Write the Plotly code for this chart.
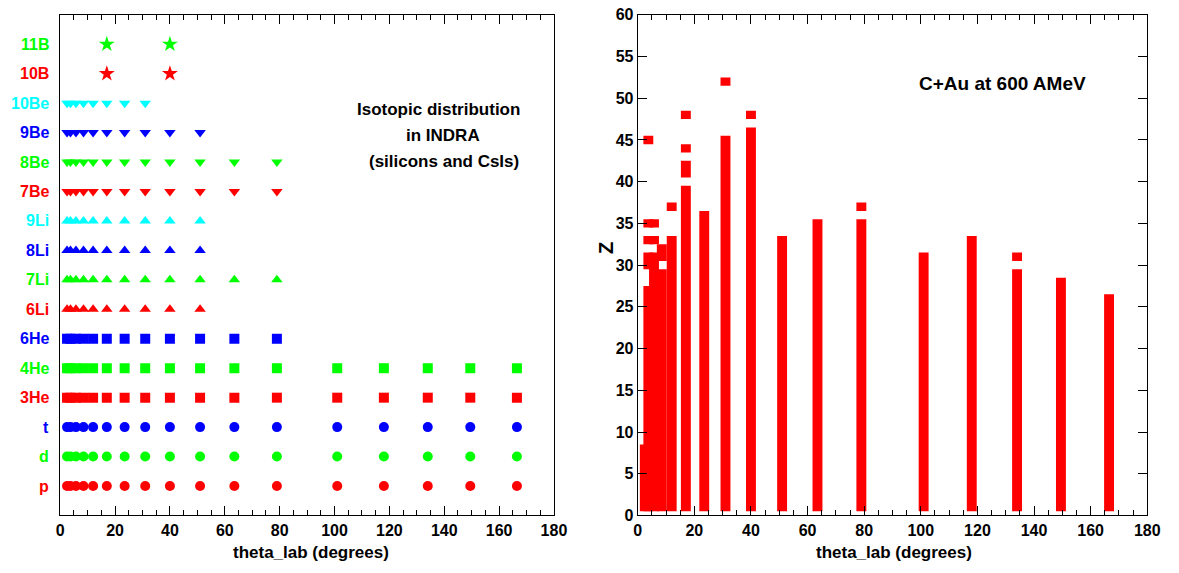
import plotly.graph_objects as go

W, H = 1179, 573

# ---------------- data ----------------
# INDRA ring centre angles (degrees)
ring_angles = [2.5, 3.75, 5.75, 8.5, 12, 17, 23.5, 31, 40, 51, 63.5, 79, 101, 118, 134, 149.5, 166.5]

isotopes = ["p", "d", "t", "3He", "4He", "6He", "6Li", "7Li", "8Li", "9Li",
            "7Be", "8Be", "9Be", "10Be", "10B", "11B"]
# number of rings (from the first) in which each isotope is identified
rings_used = [17, 17, 17, 17, 17, 12, 10, 12, 10, 10, 12, 12, 10, 8, 0, 0]
# boron isotopes: only two angles
boron_angles = [17, 40]
iso_colors = ["#ff0000", "#00ff00", "#0000ff", "#ff0000", "#00ff00", "#0000ff",
              "#ff0000", "#00ff00", "#0000ff", "#00ffff", "#ff0000", "#00ff00",
              "#0000ff", "#00ffff", "#ff0000", "#00ff00"]
iso_symbols = ["circle"] * 3 + ["square"] * 3 + ["triangle-up"] * 4 + ["triangle-down"] * 4 + ["star"] * 2
iso_sizes = [10] * 3 + [10] * 3 + [10] * 4 + [10] * 4 + [12] * 2

# Right panel: Z ranges (inclusive runs) observed at each ring angle
z_runs = {
    2.5: [(1, 8)],
    3.75: [(1, 27), (30, 31), (33, 33), (35, 35), (45, 45)],
    5.75: [(1, 31), (33, 33), (35, 35)],
    8.5: [(1, 29), (31, 32)],
    12: [(1, 33), (37, 37)],
    17: [(1, 39), (41, 42), (44, 44), (48, 48)],
    23.5: [(1, 36)],
    31: [(1, 45), (52, 52)],
    40: [(1, 46), (48, 48)],
    51: [(1, 33)],
    63.5: [(1, 35)],
    79: [(1, 35), (37, 37)],
    101: [(1, 31)],
    118: [(1, 33)],
    134: [(1, 29), (31, 31)],
    149.5: [(1, 28)],
    166.5: [(1, 26)],
}
theta_bin_width = 3.5

# ---------------- figure ----------------
def px(xp):
    return xp / W

def py(yp):
    return 1 - yp / H

FONT = "Liberation Sans, Arial, Helvetica, sans-serif"

fig = go.Figure()

for i, name in enumerate(isotopes):
    if name in ("10B", "11B"):
        xs = boron_angles
    else:
        xs = ring_angles[:rings_used[i]]
    fig.add_trace(go.Scatter(
        x=xs, y=[i + 1] * len(xs), mode="markers",
        marker=dict(symbol=iso_symbols[i], size=iso_sizes[i], color=iso_colors[i],
                    line=dict(width=0)),
        xaxis="x", yaxis="y", showlegend=False, name=name,
    ))

bx, bbase, bh = [], [], []
for ang, runs in z_runs.items():
    for lo, hi in runs:
        bx.append(ang)
        bbase.append(lo - 0.5)
        bh.append(hi - lo + 1)
fig.add_trace(go.Bar(
    x=bx, y=bh, base=bbase, width=[theta_bin_width] * len(bx),
    marker=dict(color="#ff0000", line=dict(width=0)),
    xaxis="x2", yaxis="y2", showlegend=False,
))

ydom = [py(523), py(7)]
axis_common = dict(
    showline=True, linecolor="black", linewidth=1, mirror="ticks",
    ticks="inside", ticklen=9, tickcolor="black", tickwidth=1,
    showgrid=False, zeroline=False, ticklabeloverflow="allow",
    tickfont=dict(family=FONT, size=16, color="black", weight="bold"),
)
xaxis_common = dict(axis_common, range=[0, 180], tick0=0, dtick=20,
                    minor=dict(dtick=5, ticklen=5, ticks="inside", tickcolor="black", showgrid=False))

fig.update_layout(
    autosize=True, margin=dict(l=0, r=0, t=0, b=0, pad=0),
    paper_bgcolor="white", plot_bgcolor="white",
    barmode="overlay", showlegend=False,
    xaxis=dict(xaxis_common, domain=[px(57), px(558)], anchor="y"),
    yaxis=dict(showline=True, linecolor="black", linewidth=1, mirror=True,
               ticks="", showticklabels=False, showgrid=False, zeroline=False,
               range=[0, 17], domain=ydom, anchor="x"),
    xaxis2=dict(xaxis_common, domain=[px(643), px(1160)], anchor="y2"),
    yaxis2=dict(axis_common, range=[0, 60], tick0=0, dtick=5, domain=ydom, anchor="x2"),
)

ann = []
for i, name in enumerate(isotopes):
    ann.append(dict(x=px(48), xref="paper", xanchor="right", y=i + 1, yref="y", yanchor="middle",
                    text=name, showarrow=False,
                    font=dict(family=FONT, size=16, color=iso_colors[i], weight="bold")))

for txt, cx, cy in [("Isotopic distribution", 441, 105), ("in INDRA", 445, 131),
                    ("(silicons and CsIs)", 446, 158)]:
    ann.append(dict(x=px(cx), y=py(cy), xref="paper", yref="paper", xanchor="center",
                    yanchor="middle", text=txt, showarrow=False,
                    font=dict(family=FONT, size=17, color="black", weight="bold")))

ann.append(dict(x=px(1013), y=py(78), xref="paper", yref="paper", xanchor="center",
                yanchor="middle", text="C+Au at 600 AMeV", showarrow=False,
                font=dict(family=FONT, size=19, color="black", weight="bold")))

for cx in (311, 903):
    ann.append(dict(x=px(cx), y=py(561), xref="paper", yref="paper", xanchor="center",
                    yanchor="middle", text="theta_lab (degrees)", showarrow=False,
                    font=dict(family=FONT, size=17, color="black", weight="bold")))

ann.append(dict(x=px(610), y=py(247), xref="paper", yref="paper", xanchor="center",
                yanchor="middle", text="Z", textangle=-90, showarrow=False,
                font=dict(family=FONT, size=20, color="black", weight="bold")))

fig.update_layout(annotations=ann)

# The plot div fills the browser viewport, pinned to the page origin.
fig.write_html(
    "out.html",
    default_width="100vw; position:absolute; left:0; top:0",
    default_height="100vh",
    config={"displayModeBar": False, "responsive": True},
)
